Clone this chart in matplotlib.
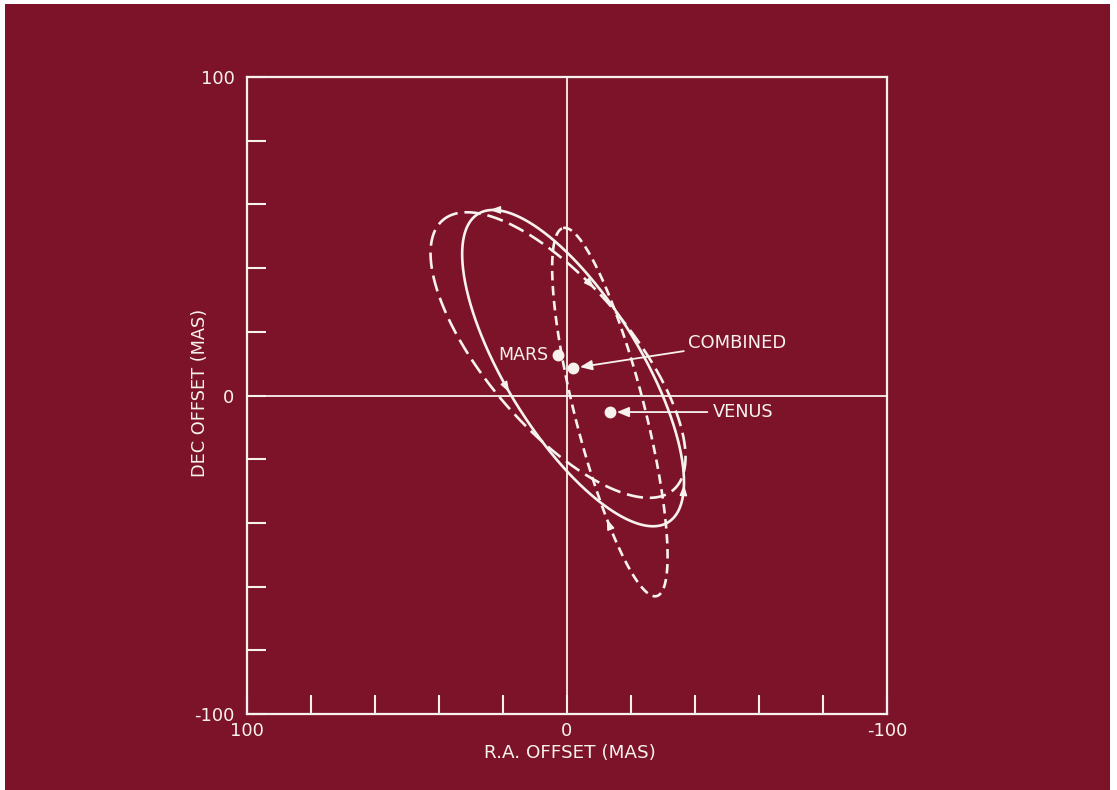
import numpy as np
import matplotlib
matplotlib.use("Agg")
import matplotlib.pyplot as plt
from matplotlib.patches import Rectangle
from matplotlib.ticker import FixedLocator, FuncFormatter

# ---------------- data ----------------
body_names = ["MARS", "COMBINED", "VENUS"]
center_ra = [2.8, -1.9, -13.4]        # mas
center_dec = [12.7, 8.6, -5.2]        # mas
semi_major = [55.6, 56.8, 59.6]       # mas
semi_minor = [22.5, 21.0, 10.9]       # mas
tilt_deg = [49.7, 58.5, 75.8]         # degrees (data frame)

# direction arrowheads along the error ellipses
arrow_body = [0, 1, 1, 1, 2]
arrow_t_deg = [80, -85, 152, 12.6, 236]
arrow_sense = [1, -1, -1, -1, 1]

tick_values = [-100, -80, -60, -40, -20, 0, 20, 40, 60, 80, 100]
labelled_ticks = [-100, 0, 100]

BG = "#7D1329"
FG = "#F7F2EE"

fig = plt.figure(figsize=(11.17, 7.90), dpi=100, facecolor="white")
fig.patches.append(Rectangle((5 / 1117, 0), 1105 / 1117, 1 - 4 / 790,
                             transform=fig.transFigure, facecolor=BG,
                             edgecolor="none", zorder=-10))

ax = fig.add_axes([247 / 1117, 1 - 714 / 790, 640 / 1117, 637 / 790])
ax.set_facecolor(BG)
ax.set_xlim(100, -100)
ax.set_ylim(-100, 100)

for sp in ax.spines.values():
    sp.set_color(FG)
    sp.set_linewidth(1.6)

ax.axhline(0, color=FG, lw=1.3, zorder=1)
ax.axvline(0, color=FG, lw=1.3, zorder=1)

ax.xaxis.set_major_locator(FixedLocator(tick_values))
ax.yaxis.set_major_locator(FixedLocator(tick_values))
fmt = FuncFormatter(lambda v, p: f"{int(round(v))}" if int(round(v)) in labelled_ticks else "")
ax.xaxis.set_major_formatter(fmt)
ax.yaxis.set_major_formatter(fmt)
ax.tick_params(axis="both", direction="in", length=14, width=1.5,
               color=FG, labelcolor=FG, labelsize=13)
ax.tick_params(axis="y", pad=9)
ax.tick_params(axis="x", pad=6)

# ---------------- ellipses ----------------
styles = [dict(ls=(0, (6.2, 2.6))), dict(ls="-"), dict(ls=(0, (3.6, 2.1)))]
tt = np.linspace(0, 2 * np.pi, 721)


def ellipse_point(i, t):
    th = np.deg2rad(tilt_deg[i])
    u = np.array([np.cos(th), np.sin(th)])
    v = np.array([-np.sin(th), np.cos(th)])
    a, b = semi_major[i], semi_minor[i]
    x = center_ra[i] + a * np.cos(t) * u[0] + b * np.sin(t) * v[0]
    y = center_dec[i] + a * np.cos(t) * u[1] + b * np.sin(t) * v[1]
    dx = -a * np.sin(t) * u[0] + b * np.cos(t) * v[0]
    dy = -a * np.sin(t) * u[1] + b * np.cos(t) * v[1]
    return x, y, dx, dy


for i in range(len(body_names)):
    x, y, _, _ = ellipse_point(i, tt)
    ax.plot(x, y, color=FG, lw=1.9, linestyle=styles[i]["ls"],
            solid_capstyle="round", dash_capstyle="butt", zorder=3)

for bi, tdeg, s in zip(arrow_body, arrow_t_deg, arrow_sense):
    x, y, dx, dy = ellipse_point(bi, np.deg2rad(tdeg))
    n = np.hypot(dx, dy)
    dx, dy = s * dx / n, s * dy / n
    ax.annotate("", xy=(x + 1.0 * dx, y + 1.0 * dy), xytext=(x - 1.2 * dx, y - 1.2 * dy),
                arrowprops=dict(arrowstyle="-|>,head_length=0.7,head_width=0.25",
                                color=FG, lw=1.0, shrinkA=0, shrinkB=0,
                                mutation_scale=9), zorder=4)

# ---------------- points & labels ----------------
ax.plot(center_ra, center_dec, "o", color=FG, ms=7.5, zorder=5)

ax.text(center_ra[0] + 3.0, center_dec[0], body_names[0], color=FG,
        fontsize=12.5, ha="right", va="center", zorder=6)

ax.annotate(body_names[1], xy=(center_ra[1], center_dec[1]), xytext=(-37.8, 16.5),
            color=FG, fontsize=13, ha="left", va="center",
            arrowprops=dict(arrowstyle="-|>,head_length=0.6,head_width=0.25",
                            color=FG, lw=1.3, shrinkA=1, shrinkB=5,
                            mutation_scale=12), zorder=6)
ax.annotate(body_names[2], xy=(center_ra[2], center_dec[2]), xytext=(-45.6, center_dec[2]),
            color=FG, fontsize=12.8, ha="left", va="center",
            arrowprops=dict(arrowstyle="-|>,head_length=0.6,head_width=0.25",
                            color=FG, lw=1.3, shrinkA=2, shrinkB=5,
                            mutation_scale=12), zorder=6)

fig.text(570 / 1117, 1 - 753 / 790, "R.A. OFFSET (MAS)", color=FG, fontsize=13.2,
         ha="center", va="center")
fig.text(200 / 1117, 1 - 393 / 790, "DEC OFFSET (MAS)", color=FG, fontsize=12.8,
         ha="center", va="center", rotation=90)

fig.savefig("out.png", dpi=100, facecolor="white")
